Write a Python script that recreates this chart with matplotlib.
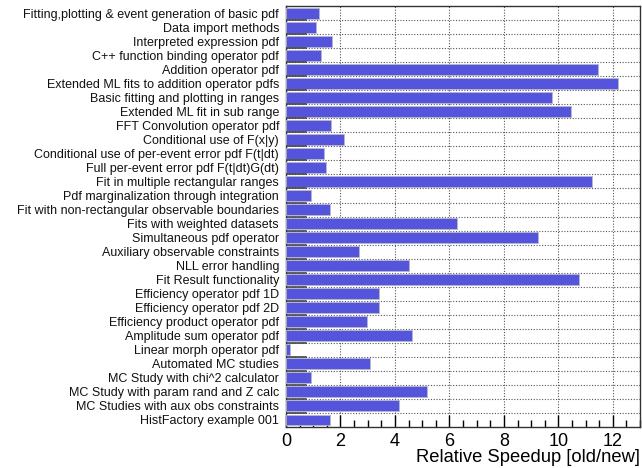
import matplotlib
matplotlib.use("Agg")
import matplotlib.pyplot as plt
from matplotlib.ticker import MultipleLocator
import numpy as np

labels = [
    "Fitting,plotting & event generation of basic pdf",
    "Data import methods",
    "Interpreted expression pdf",
    "C++ function binding operator pdf",
    "Addition operator pdf",
    "Extended ML fits to addition operator pdfs",
    "Basic fitting and plotting in ranges",
    "Extended ML fit in sub range",
    "FFT Convolution operator pdf",
    "Conditional use of F(x|y)",
    "Conditional use of per-event error pdf F(t|dt)",
    "Full per-event error pdf F(t|dt)G(dt)",
    "Fit in multiple rectangular ranges",
    "Pdf marginalization through integration",
    "Fit with non-rectangular observable boundaries",
    "Fits with weighted datasets",
    "Simultaneous pdf operator",
    "Auxiliary observable constraints",
    "NLL error handling",
    "Fit Result functionality",
    "Efficiency operator pdf 1D",
    "Efficiency operator pdf 2D",
    "Efficiency product operator pdf",
    "Amplitude sum operator pdf",
    "Linear morph operator pdf",
    "Automated MC studies",
    "MC Study with chi^2 calculator",
    "MC Study with param rand and Z calc",
    "MC Studies with aux obs constraints",
    "HistFactory example 001",
]
speedup = [1.21, 1.10, 1.68, 1.29, 11.46, 12.19, 9.75, 10.47, 1.65, 2.14,
           1.40, 1.46, 11.25, 0.92, 1.60, 6.27, 9.26, 2.69, 4.53, 10.76,
           3.40, 3.40, 2.96, 4.61, 0.16, 3.07, 0.92, 5.18, 4.16, 1.60]

plt.rcParams['font.family'] = ['Liberation Sans', 'DejaVu Sans']

fig = plt.figure(figsize=(6.42, 4.68), dpi=100)
ax = fig.add_axes([0.4455, 0.0876, 0.5515, 0.8994])

n = len(labels)
y = np.arange(n)
ax.barh(y, speedup, height=0.78, color='#5454dc', edgecolor='#b8b8c8', linewidth=0.6, zorder=3)

ax.set_xlim(0, 13)
ax.set_ylim(n - 0.5, -0.5)
ax.set_yticks(y)
ax.set_yticklabels(labels, fontsize=9.0, color='#111111')
ax.tick_params(axis='y', length=0, pad=5)

# category boundaries: dotted grid + short inside ticks
for b in np.arange(0.5, n - 0.5, 1.0):
    ax.axhline(b, color='#555555', lw=0.8, ls=(0, (1, 1.5)), zorder=1)
    ax.plot([0, 0.75], [b, b], color='#444444', lw=1.2, zorder=4)

ax.xaxis.set_major_locator(MultipleLocator(2))
ax.xaxis.set_minor_locator(MultipleLocator(0.5))
ax.grid(axis='x', which='major', color='#555555', lw=0.8, ls=(0, (1, 1.5)), zorder=1)
ax.tick_params(axis='x', which='major', direction='in', length=9, width=1, labelsize=13, pad=4)
ax.tick_params(axis='x', which='minor', direction='in', length=5, width=1)

for s in ax.spines.values():
    s.set_color('#333333')
    s.set_linewidth(1.0)

fig.text(0.997, 0.022, "Relative Speedup [old/new]", ha='right', va='center', fontsize=13.2)

fig.savefig("out.png", dpi=100)
